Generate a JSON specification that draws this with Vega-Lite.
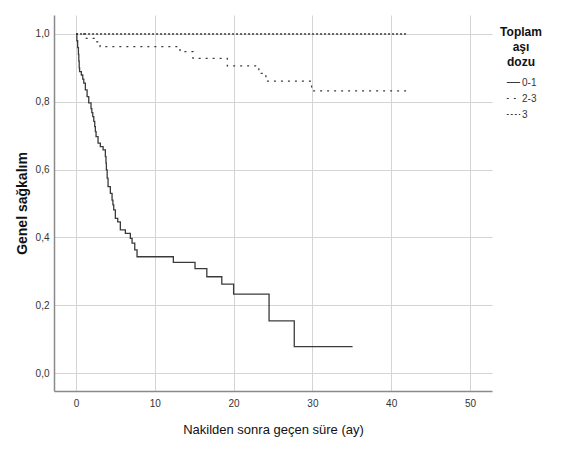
{
  "$schema": "https://vega.github.io/schema/vega-lite/v6.json",
  "autosize": {"type": "none"},
  "padding": {"left": 54, "top": 15, "right": 84, "bottom": 58},
  "width": 438,
  "height": 376,
  "background": "white",
  "config": {
    "view": {"stroke": null},
    "font": "Liberation Sans",
    "axis": {
      "domainColor": "#8a8a8a",
      "domainWidth": 1.5,
      "gridColor": "#d4d4d4",
      "gridWidth": 1,
      "ticks": false,
      "labelColor": "#333333",
      "labelFontSize": 10,
      "titleColor": "#111111"
    }
  },
  "data": {
    "values": [
      {"group": "0-1", "t": 0, "S": 1.0},
      {"group": "0-1", "t": 0.1, "S": 0.98},
      {"group": "0-1", "t": 0.2, "S": 0.96},
      {"group": "0-1", "t": 0.3, "S": 0.94},
      {"group": "0-1", "t": 0.35, "S": 0.92},
      {"group": "0-1", "t": 0.4, "S": 0.9},
      {"group": "0-1", "t": 0.45, "S": 0.889},
      {"group": "0-1", "t": 0.67, "S": 0.879},
      {"group": "0-1", "t": 0.85, "S": 0.867},
      {"group": "0-1", "t": 0.98, "S": 0.855},
      {"group": "0-1", "t": 1.18, "S": 0.835},
      {"group": "0-1", "t": 1.4, "S": 0.815},
      {"group": "0-1", "t": 1.61, "S": 0.797},
      {"group": "0-1", "t": 1.9, "S": 0.78},
      {"group": "0-1", "t": 2.0, "S": 0.768},
      {"group": "0-1", "t": 2.12, "S": 0.756},
      {"group": "0-1", "t": 2.25, "S": 0.742},
      {"group": "0-1", "t": 2.37, "S": 0.727},
      {"group": "0-1", "t": 2.45, "S": 0.712},
      {"group": "0-1", "t": 2.54, "S": 0.697},
      {"group": "0-1", "t": 2.79, "S": 0.678},
      {"group": "0-1", "t": 3.08, "S": 0.668},
      {"group": "0-1", "t": 3.43, "S": 0.658},
      {"group": "0-1", "t": 3.72, "S": 0.638},
      {"group": "0-1", "t": 3.8, "S": 0.619},
      {"group": "0-1", "t": 3.85, "S": 0.599},
      {"group": "0-1", "t": 3.95, "S": 0.575},
      {"group": "0-1", "t": 4.06, "S": 0.55},
      {"group": "0-1", "t": 4.35, "S": 0.53},
      {"group": "0-1", "t": 4.57, "S": 0.51},
      {"group": "0-1", "t": 4.68, "S": 0.496},
      {"group": "0-1", "t": 4.78, "S": 0.481},
      {"group": "0-1", "t": 4.99, "S": 0.456},
      {"group": "0-1", "t": 5.29, "S": 0.446},
      {"group": "0-1", "t": 5.62, "S": 0.422},
      {"group": "0-1", "t": 6.26, "S": 0.412},
      {"group": "0-1", "t": 6.89, "S": 0.397},
      {"group": "0-1", "t": 7.11, "S": 0.383},
      {"group": "0-1", "t": 7.45, "S": 0.363},
      {"group": "0-1", "t": 7.74, "S": 0.343},
      {"group": "0-1", "t": 12.35, "S": 0.3265},
      {"group": "0-1", "t": 15.1, "S": 0.308},
      {"group": "0-1", "t": 16.6, "S": 0.284},
      {"group": "0-1", "t": 18.5, "S": 0.262},
      {"group": "0-1", "t": 20.0, "S": 0.233},
      {"group": "0-1", "t": 24.5, "S": 0.154},
      {"group": "0-1", "t": 27.7, "S": 0.0776},
      {"group": "0-1", "t": 35.1, "S": 0.0776},
      {"group": "2-3", "t": 0, "S": 1.0},
      {"group": "2-3", "t": 1.14, "S": 0.987},
      {"group": "2-3", "t": 2.66, "S": 0.977},
      {"group": "2-3", "t": 3.05, "S": 0.9625},
      {"group": "2-3", "t": 13.2, "S": 0.948},
      {"group": "2-3", "t": 14.85, "S": 0.928},
      {"group": "2-3", "t": 19.2, "S": 0.906},
      {"group": "2-3", "t": 23.2, "S": 0.884},
      {"group": "2-3", "t": 24.1, "S": 0.861},
      {"group": "2-3", "t": 29.9, "S": 0.832},
      {"group": "2-3", "t": 42.0, "S": 0.832},
      {"group": "3", "t": 0, "S": 1.0},
      {"group": "3", "t": 42.0, "S": 1.0}
    ]
  },
  "mark": {"type": "line", "interpolate": "step-after", "color": "#3a3a3a", "strokeWidth": 1.3},
  "encoding": {
    "x": {
      "field": "t",
      "type": "quantitative",
      "scale": {"domain": [-2.8, 52.8], "nice": false, "zero": false},
      "axis": {
        "values": [0, 10, 20, 30, 40, 50],
        "title": "Nakilden sonra geçen süre (ay)",
        "titleFontSize": 13,
        "titleFontWeight": "normal",
        "titlePadding": 15,
        "labelPadding": 7
      }
    },
    "y": {
      "field": "S",
      "type": "quantitative",
      "scale": {"domain": [-0.053, 1.056], "nice": false, "zero": false},
      "axis": {
        "values": [0, 0.2, 0.4, 0.6, 0.8, 1.0],
        "labelExpr": "replace(format(datum.value, '.1f'), '.', ',')",
        "title": "Genel sağkalım",
        "titleFontSize": 14,
        "titleFontWeight": "bold",
        "titlePadding": 6,
        "labelPadding": 5
      }
    },
    "strokeDash": {
      "field": "group",
      "type": "nominal",
      "scale": {"domain": ["0-1", "2-3", "3"], "range": [[1, 0], [2, 5], [2, 2]]},
      "legend": {
        "orient": "none",
        "legendX": 446,
        "legendY": 12,
        "title": ["Toplam", "aşı", "dozu"],
        "titleFontSize": 12,
        "titleFontWeight": "bold",
        "titleColor": "#111111",
        "titleAlign": "center",
        "titleAnchor": "middle",
        "titleLineHeight": 15,
        "titlePadding": 6,
        "symbolType": "stroke",
        "symbolSize": 180,
        "symbolStrokeColor": "#3a3a3a",
        "symbolStrokeWidth": 1.2,
        "labelFontSize": 10,
        "labelColor": "#333333",
        "labelOffset": 1,
        "rowPadding": 3
      }
    }
  }
}
